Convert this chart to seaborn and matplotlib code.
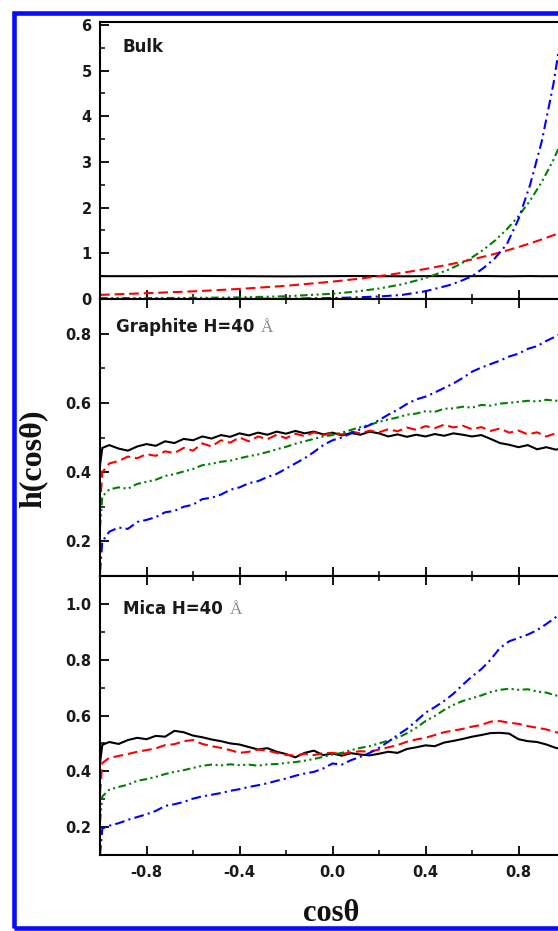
import numpy as np
import pandas as pd
import matplotlib
matplotlib.use("Agg")
import matplotlib.pyplot as plt
import seaborn as sns
from matplotlib.ticker import MultipleLocator, FixedLocator
from matplotlib.patches import Rectangle

sns.set_style("ticks")
plt.rcParams['font.family'] = ['DejaVu Sans']
plt.rcParams['axes.unicode_minus'] = False
plt.rcParams['lines.scale_dashes'] = False

# ---------------- data ----------------
bulk_x = [-1.0, -0.8, -0.6, -0.4, -0.2, 0.0, 0.1, 0.2, 0.3, 0.4, 0.5, 0.55,
          0.6, 0.65, 0.7, 0.75, 0.8, 0.85, 0.9, 0.95, 1.0]
bulk_black = [0.50, 0.50, 0.505, 0.50, 0.495, 0.50, 0.503, 0.50, 0.497, 0.50, 0.502,
              0.498, 0.50, 0.503, 0.50, 0.497, 0.50, 0.502, 0.499, 0.50, 0.50]
bulk_red = [0.09, 0.127, 0.167, 0.22, 0.289, 0.38, 0.436, 0.50, 0.573, 0.657, 0.754,
            0.807, 0.865, 0.926, 0.991, 1.062, 1.137, 1.218, 1.304, 1.396, 1.495]
bulk_green = [0.02, 0.02, 0.025, 0.035, 0.06, 0.115, 0.162, 0.229, 0.323, 0.456, 0.644,
              0.766, 0.91, 1.081, 1.285, 1.527, 1.814, 2.155, 2.561, 3.043, 3.616]
bulk_blue = [0.0, 0.0, 0.0, 0.003, 0.008, 0.02, 0.035, 0.055, 0.09, 0.17, 0.30,
             0.39, 0.50, 0.68, 0.90, 1.20, 1.75, 2.50, 3.45, 4.70, 6.30]

cos_theta = [-1.0, -0.99, -0.96, -0.92, -0.88, -0.84, -0.80, -0.76, -0.72, -0.68,
             -0.64, -0.60, -0.56, -0.52, -0.48, -0.44, -0.40, -0.36, -0.32, -0.28,
             -0.24, -0.20, -0.16, -0.12, -0.08, -0.04, 0.00, 0.04, 0.08, 0.12,
             0.16, 0.20, 0.24, 0.28, 0.32, 0.36, 0.40, 0.44, 0.48, 0.52,
             0.56, 0.60, 0.64, 0.68, 0.72, 0.76, 0.80, 0.84, 0.88, 0.92, 0.96, 1.00]

graphite_black = [0.42, 0.47, 0.478, 0.468, 0.462, 0.474, 0.481, 0.476, 0.489, 0.484,
                  0.496, 0.492, 0.503, 0.497, 0.507, 0.502, 0.512, 0.506, 0.514, 0.508,
                  0.517, 0.511, 0.519, 0.512, 0.517, 0.509, 0.514, 0.506, 0.513, 0.508,
                  0.517, 0.512, 0.503, 0.509, 0.502, 0.508, 0.503, 0.510, 0.505, 0.512,
                  0.508, 0.503, 0.507, 0.496, 0.484, 0.479, 0.472, 0.478, 0.466, 0.472,
                  0.465, 0.470]
graphite_red = [0.30, 0.40, 0.425, 0.432, 0.445, 0.440, 0.452, 0.447, 0.460, 0.455,
                0.470, 0.462, 0.483, 0.474, 0.492, 0.485, 0.500, 0.489, 0.503, 0.495,
                0.508, 0.498, 0.511, 0.504, 0.515, 0.507, 0.513, 0.509, 0.517, 0.512,
                0.520, 0.515, 0.524, 0.518, 0.529, 0.522, 0.533, 0.527, 0.537, 0.529,
                0.534, 0.524, 0.530, 0.519, 0.526, 0.514, 0.520, 0.509, 0.515, 0.503,
                0.512, 0.506]
graphite_green = [0.24, 0.33, 0.350, 0.356, 0.352, 0.366, 0.372, 0.378, 0.389, 0.394,
                  0.402, 0.409, 0.420, 0.424, 0.430, 0.433, 0.440, 0.446, 0.451, 0.458,
                  0.466, 0.473, 0.482, 0.489, 0.496, 0.503, 0.507, 0.514, 0.522, 0.530,
                  0.537, 0.545, 0.552, 0.558, 0.566, 0.569, 0.576, 0.574, 0.583, 0.584,
                  0.589, 0.586, 0.594, 0.592, 0.598, 0.600, 0.603, 0.606, 0.604, 0.609,
                  0.606, 0.610]
graphite_blue = [0.11, 0.20, 0.228, 0.240, 0.236, 0.256, 0.262, 0.270, 0.284, 0.288,
                 0.300, 0.306, 0.322, 0.326, 0.335, 0.349, 0.356, 0.368, 0.374, 0.386,
                 0.395, 0.410, 0.425, 0.440, 0.458, 0.478, 0.492, 0.500, 0.512, 0.524,
                 0.536, 0.550, 0.566, 0.580, 0.597, 0.610, 0.618, 0.630, 0.643, 0.656,
                 0.672, 0.690, 0.702, 0.712, 0.722, 0.734, 0.742, 0.756, 0.764, 0.779,
                 0.792, 0.805]

mica_black = [0.43, 0.495, 0.505, 0.498, 0.512, 0.520, 0.515, 0.527, 0.524, 0.545,
              0.540, 0.528, 0.522, 0.514, 0.508, 0.500, 0.496, 0.487, 0.478, 0.483,
              0.470, 0.462, 0.450, 0.466, 0.474, 0.458, 0.464, 0.456, 0.465, 0.460,
              0.457, 0.463, 0.470, 0.466, 0.480, 0.486, 0.493, 0.490, 0.503, 0.509,
              0.516, 0.524, 0.530, 0.537, 0.538, 0.535, 0.515, 0.508, 0.505, 0.496,
              0.484, 0.478]
mica_red = [0.32, 0.43, 0.448, 0.455, 0.462, 0.470, 0.476, 0.482, 0.494, 0.497,
            0.508, 0.512, 0.498, 0.490, 0.484, 0.476, 0.466, 0.470, 0.478, 0.474,
            0.466, 0.459, 0.456, 0.463, 0.458, 0.465, 0.466, 0.462, 0.468, 0.472,
            0.470, 0.478, 0.486, 0.494, 0.506, 0.514, 0.520, 0.530, 0.540, 0.546,
            0.552, 0.560, 0.566, 0.578, 0.580, 0.574, 0.570, 0.562, 0.556, 0.550,
            0.540, 0.535]
mica_green = [0.22, 0.31, 0.334, 0.344, 0.352, 0.366, 0.372, 0.380, 0.390, 0.398,
              0.404, 0.412, 0.420, 0.424, 0.421, 0.425, 0.422, 0.424, 0.420, 0.425,
              0.426, 0.430, 0.433, 0.438, 0.444, 0.452, 0.460, 0.466, 0.476, 0.484,
              0.490, 0.500, 0.510, 0.520, 0.536, 0.556, 0.580, 0.598, 0.620, 0.638,
              0.652, 0.662, 0.672, 0.684, 0.692, 0.696, 0.692, 0.694, 0.686, 0.682,
              0.672, 0.668]
mica_blue = [0.10, 0.195, 0.205, 0.214, 0.226, 0.236, 0.246, 0.258, 0.276, 0.282,
             0.290, 0.302, 0.310, 0.316, 0.322, 0.330, 0.336, 0.344, 0.350, 0.357,
             0.366, 0.374, 0.384, 0.392, 0.398, 0.410, 0.428, 0.424, 0.440, 0.452,
             0.466, 0.484, 0.506, 0.530, 0.552, 0.580, 0.610, 0.630, 0.652, 0.678,
             0.710, 0.740, 0.766, 0.800, 0.842, 0.866, 0.878, 0.890, 0.906, 0.928,
             0.952, 0.980]

x_ticks = [-0.8, -0.4, 0.0, 0.4, 0.8]
x_tick_labels = ["-0.8", "-0.4", "0.0", "0.4", "0.8"]
bulk_yticks = [0, 1, 2, 3, 4, 5, 6]
graphite_yticks = [0.2, 0.4, 0.6, 0.8]
mica_yticks = [0.2, 0.4, 0.6, 0.8, 1.0]
panel_titles = ["Bulk", "Graphite H=40 ", "Mica H=40 "]

# ---------------- styles ----------------
colors = ["#000000", "#ff0000", "#008000", "#0000ff"]
styles = ["-", (0, (7, 3.5)), (0, (5.5, 2.5, 1.5, 2.5, 1.5, 2.5)), (0, (7, 3, 1.5, 3))]

W, H = 558, 931
fig = plt.figure(figsize=(W / 100, H / 100), dpi=100)
fig.patch.set_facecolor("white")

left = 100 / W
width = 465 / W
bounds = [(21.7, 299), (299, 576), (576, 855)]
axes = []
for top, bot in bounds:
    ax = fig.add_axes([left, 1 - bot / H, width, (bot - top) / H])
    axes.append(ax)

panels = [
    (bulk_x, [bulk_black, bulk_red, bulk_green, bulk_blue], (0, 6.07), bulk_yticks, 0.5),
    (cos_theta, [graphite_black, graphite_red, graphite_green, graphite_blue], (0.1, 0.9), graphite_yticks, 0.1),
    (cos_theta, [mica_black, mica_red, mica_green, mica_blue], (0.1, 1.1), mica_yticks, 0.1),
]

tick_font = dict(family="DejaVu Sans", weight="bold", size=10.5)

for i, (ax, (xs, series, ylim, yt, yminor)) in enumerate(zip(axes, panels)):
    for ys, c, ls in zip(series, colors, styles):
        sns.lineplot(x=xs, y=ys, ax=ax, color=c, linewidth=1.5, estimator=None,
                     sort=False, legend=False)
        ax.lines[-1].set_linestyle(ls)
    ax.set_xlim(-1.0, 1.0)
    ax.set_ylim(*ylim)
    ax.set_xlabel("")
    ax.set_ylabel("")
    ax.xaxis.set_major_locator(FixedLocator(x_ticks))
    ax.xaxis.set_minor_locator(FixedLocator([-0.6, -0.2, 0.2, 0.6]))
    ax.set_yticks(yt)
    ax.yaxis.set_minor_locator(MultipleLocator(yminor))
    for sp in ax.spines.values():
        sp.set_linewidth(1.5)
        sp.set_color("black")
        sp.set_visible(True)
    ax.tick_params(axis="both", which="major", direction="in", length=6.5, width=1.3,
                   color="black")
    ax.tick_params(axis="both", which="minor", direction="in", length=3.3, width=1.1,
                   color="black")
    ax.tick_params(axis="y", which="both", left=True, right=False, pad=6)
    ax.tick_params(axis="x", which="both", bottom=True, top=(i > 0), pad=7)
    if i < 2:
        ax.tick_params(axis="x", labelbottom=False)
    else:
        ax.set_xticklabels(x_tick_labels)
        for lab in ax.get_xticklabels():
            lab.set_fontproperties(tick_font)
            lab.set_color("#1a1a1a")
    if i == 0:
        ax.set_yticklabels([str(v) for v in yt])
    else:
        ax.set_yticklabels([f"{v:.1f}" for v in yt])
    for lab in ax.get_yticklabels():
        lab.set_fontproperties(tick_font)
        lab.set_color("#1a1a1a")
    ax.set_facecolor("white")

# panel labels
label_pos = [(123, 52), (116, 332), (123, 614)]
title_texts = []
for (px, py), txt in zip(label_pos, panel_titles):
    t = fig.text(px / W, 1 - py / H, txt, ha="left", va="baseline",
                 family="DejaVu Sans", weight="bold", size=12, color="#1a1a1a")
    title_texts.append(t)

fig.canvas.draw()
renderer = fig.canvas.get_renderer()
for t, (px, py) in zip(title_texts[1:], label_pos[1:]):
    bb = t.get_window_extent(renderer)
    fig.text((bb.x1 + 1) / W, 1 - py / H, "Å", ha="left", va="baseline",
             family="Liberation Serif", size=12.5, color="#8a8a8a")

# axis labels
fig.text(33 / W, 1 - 459 / H, "h(cosθ)", rotation=90, ha="center", va="center",
         family="Liberation Serif", weight="bold", size=23, color="#111111")
fig.text(331 / W, 1 - 921 / H, "cosθ", ha="center", va="baseline",
         family="Liberation Serif", weight="bold", size=22, color="#111111")

# blue frame
frame = Rectangle((13.8 / W, 1 - 928 / H), 1.2, (928 - 12.5) / H,
                  transform=fig.transFigure, fill=False, edgecolor="#0a0aff",
                  linewidth=3.3, zorder=20, clip_on=False)
fig.patches.append(frame)

fig.savefig("out.png", dpi=100, facecolor="white")
